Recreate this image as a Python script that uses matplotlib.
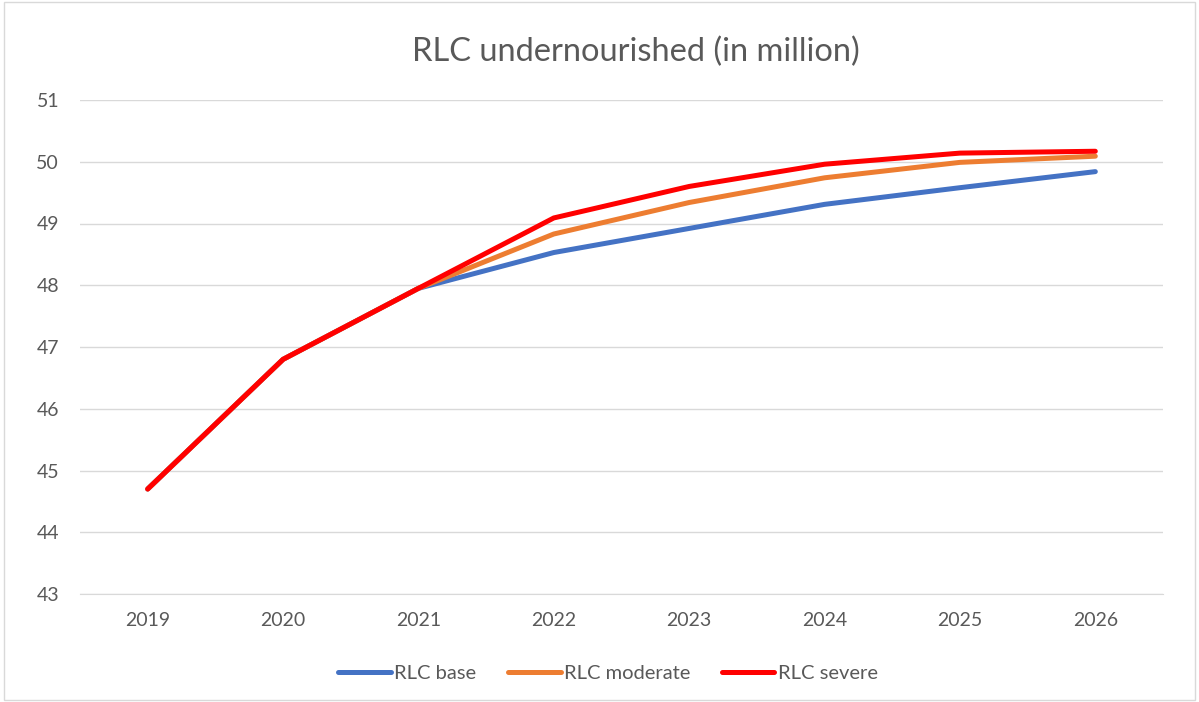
import numpy as np
import matplotlib.pyplot as plt

years = ["2019", "2020", "2021", "2022", "2023", "2024", "2025", "2026"]
rlc_base = [44.70, 46.80, 47.95, 48.53, 48.92, 49.31, 49.58, 49.84]
rlc_moderate = [44.70, 46.80, 47.95, 48.83, 49.34, 49.74, 49.99, 50.09]
rlc_severe = [44.70, 46.80, 47.95, 49.09, 49.60, 49.96, 50.14, 50.17]

plt.rcParams['font.family'] = ['Lato', 'DejaVu Sans']
text_color = "#595959"

fig = plt.figure(figsize=(11.99, 7.02), dpi=100)
ax = fig.add_axes([80 / 1199, 1 - 594 / 702, 1083 / 1199, 494 / 702])

xs = np.arange(len(years))
series = [("RLC base", rlc_base, "#4472C4"),
          ("RLC moderate", rlc_moderate, "#ED7D31"),
          ("RLC severe", rlc_severe, "#FF0000")]
for label, vals, color in series:
    ax.plot(xs, vals, color=color, lw=3.6, label=label,
            solid_capstyle="round", solid_joinstyle="round")

ax.set_xlim(-0.5, len(years) - 0.5)
ax.set_ylim(43, 51)
ax.set_yticks(np.arange(43, 52, 1))
ax.set_xticks(xs)
ax.set_xticklabels(years)
ax.grid(axis="y", color="#D9D9D9", lw=1)
ax.set_axisbelow(True)
for s in ["top", "right", "left"]:
    ax.spines[s].set_visible(False)
ax.spines["bottom"].set_color("#D9D9D9")
ax.tick_params(axis="both", length=0, labelsize=14, colors=text_color)
ax.tick_params(axis="y", pad=15)
ax.tick_params(axis="x", pad=13)

fig.text(636 / 1199, 1 - 52 / 702, "RLC undernourished (in million)", ha="center",
         va="center", fontsize=23.5, color=text_color)

leg = ax.legend(loc="center", bbox_to_anchor=(0.4875, -0.16), ncol=3,
                frameon=False, fontsize=14.5, handlelength=2.6,
                handletextpad=0.15, columnspacing=1.6)
for t in leg.get_texts():
    t.set_color(text_color)

# chart area border
fig.patches.append(plt.Rectangle((0.003, 0.003), 0.994, 0.994,
                                 transform=fig.transFigure, fill=False,
                                 edgecolor="#D9D9D9", lw=1))

plt.savefig("out.png", dpi=100)
